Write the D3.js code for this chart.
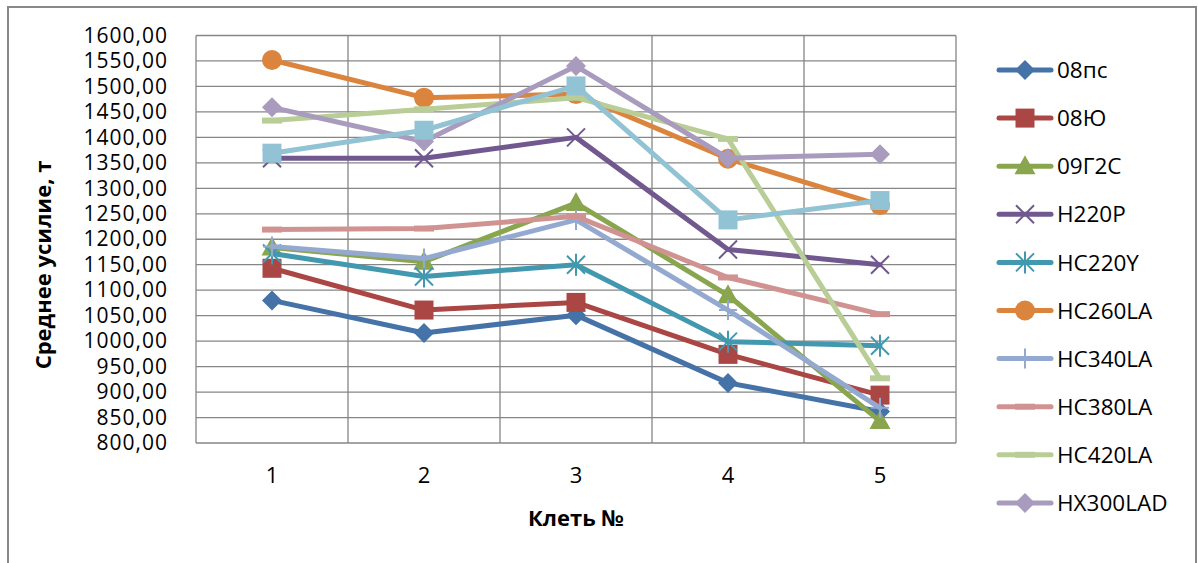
<!DOCTYPE html>
<html>
<head>
<meta charset="utf-8">
<script src="https://cdn.jsdelivr.net/npm/d3@7"></script>
<style>
  html, body { margin: 0; padding: 0; background: #fff; }
  svg { display: block; }
  text { font-family: "Open Sans", "Noto Sans", sans-serif; fill: #000; }
</style>
</head>
<body>
<svg id="chart" width="1198" height="563"></svg>
<script>
// Stands (клети) along the rolling line
const stands = [1, 2, 3, 4, 5];

// Average rolling force per stand, t
const s08ps     = [1080, 1016, 1051, 918, 862];
const s08yu     = [1143, 1061, 1076, 974, 894];
const s09g2s    = [1184, 1156, 1271, 1090, 843];
const sH220P    = [1359, 1359, 1400, 1180, 1150];
const sHC220Y   = [1172, 1127, 1150, 999, 991];
const sHC260LA  = [1552, 1478, 1485, 1358, 1267];
const sHC340LA  = [1186, 1162, 1238, 1061, 869];
const sHC380LA  = [1219, 1221, 1245, 1125, 1053];
const sHC420LA  = [1433, 1455, 1478, 1397, 927];
const sHX300LAD = [1459, 1392, 1540, 1359, 1367];
const sHX340LAD = [1369, 1414, 1501, 1238, 1276];

const seriesNames = ["08пс", "08Ю", "09Г2С", "H220P", "HC220Y", "HC260LA",
                     "HC340LA", "HC380LA", "HC420LA", "HX300LAD", "HX340LAD"];
const seriesValues = [s08ps, s08yu, s09g2s, sH220P, sHC220Y, sHC260LA,
                      sHC340LA, sHC380LA, sHC420LA, sHX300LAD, sHX340LAD];
const seriesColors = ["#4572A7", "#AA4643", "#89A54E", "#71588F", "#4198AF", "#DB843D",
                      "#93A9CF", "#D19392", "#B9CD96", "#A99BBD", "#92C3D4"];
const seriesMarkers = ["diamond", "square", "triangle", "x", "star", "circle",
                       "plus", "dash", "dash", "diamond", "square"];
// Only the first ten series fit into the legend box
const legendCount = 10;

const yTicks = d3.range(800, 1601, 50);

const svg = d3.select("#chart");
const plot = { left: 196, right: 956, top: 35.5, bottom: 443 };

const locale = d3.formatLocale({ decimal: ",", thousands: "", grouping: [3], currency: ["", ""] });
const fmt = locale.format(".2f");

const x = d3.scaleBand().domain(stands).range([plot.left, plot.right]).padding(0);
const y = d3.scaleLinear().domain([800, 1600]).range([plot.bottom, plot.top]);
const cx = d => x(d) + x.bandwidth() / 2;

// Outer chart frame
svg.append("rect")
  .attr("x", 8).attr("y", 7).attr("width", 1188).attr("height", 570)
  .attr("fill", "none").attr("stroke", "#888").attr("stroke-width", 2);

const grid = svg.append("g").attr("stroke", "#868686").attr("stroke-width", 1.3).attr("fill", "none");

// Horizontal gridlines
grid.selectAll("line.h").data(yTicks).join("line")
  .attr("class", "h")
  .attr("x1", plot.left).attr("x2", plot.right)
  .attr("y1", d => y(d)).attr("y2", d => y(d));

// Vertical gridlines at stand boundaries
const bounds = stands.map(d => x(d)).concat([x(stands[stands.length - 1]) + x.bandwidth()]);
grid.selectAll("line.v").data(bounds).join("line")
  .attr("class", "v")
  .attr("x1", d => d).attr("x2", d => d)
  .attr("y1", plot.top).attr("y2", plot.bottom);

// Y axis tick labels
const yAxis = d3.axisLeft(y).tickValues(yTicks).tickFormat(fmt).tickSize(0).tickPadding(28);
const gy = svg.append("g").attr("transform", `translate(${plot.left},0)`).call(yAxis);
gy.select(".domain").remove();
gy.selectAll("text").attr("font-size", 21).attr("letter-spacing", 1)
  .attr("font-family", "Open Sans").attr("fill", "#000");

// X axis tick labels
const xAxis = d3.axisBottom(x).tickSize(0).tickPadding(24);
const gx = svg.append("g").attr("transform", `translate(0,${plot.bottom})`).call(xAxis);
gx.select(".domain").remove();
gx.selectAll("text").attr("font-size", 22).attr("font-family", "Open Sans").attr("fill", "#000");

// Axis titles
svg.append("text")
  .attr("x", (plot.left + plot.right) / 2).attr("y", 526)
  .attr("text-anchor", "middle").attr("font-weight", "bold").attr("font-size", 22)
  .text("Клеть №");

svg.append("text")
  .attr("transform", "translate(51,265) rotate(-90)")
  .attr("text-anchor", "middle").attr("font-weight", "bold").attr("font-size", 22)
  .text("Среднее усилие, т");

// Marker shapes centred on (0,0)
function markerPath(kind) {
  switch (kind) {
    case "diamond":  return "M0,-10L10,0L0,10L-10,0Z";
    case "square":   return "M-9.5,-9.5H9.5V9.5H-9.5Z";
    case "triangle": return "M0,-11L10.5,8L-10.5,8Z";
    case "circle":   return d3.symbol(d3.symbolCircle, Math.PI * 100)();
    case "dash":     return "M-10,-3H10V3H-10Z";
    case "x":        return "M-9,-9L9,9M-9,9L9,-9";
    case "star":     return "M-9,-9L9,9M-9,9L9,-9M0,-11V11";
    case "plus":     return "M-9,0H9M0,-10V10";
  }
}
const strokeOnly = k => k === "x" || k === "star" || k === "plus";

function drawMarker(g, kind, color) {
  g.append("path")
    .attr("d", markerPath(kind))
    .attr("fill", strokeOnly(kind) ? "none" : color)
    .attr("stroke", strokeOnly(kind) ? color : "none")
    .attr("stroke-width", 2);
}

const line = d3.line().x((d, i) => cx(stands[i])).y(d => y(d));

// Series: line then markers, in order
seriesValues.forEach((vals, si) => {
  const g = svg.append("g").attr("class", "series");
  g.append("path")
    .attr("d", line(vals))
    .attr("fill", "none")
    .attr("stroke", seriesColors[si])
    .attr("stroke-width", 5)
    .attr("stroke-linejoin", "round")
    .attr("stroke-linecap", "round");
  vals.forEach((v, i) => {
    const m = g.append("g").attr("transform", `translate(${cx(stands[i])},${y(v)})`);
    drawMarker(m, seriesMarkers[si], seriesColors[si]);
  });
});

// Legend
const legend = svg.append("g");
const legendTop = 70, legendStep = 48.1;
seriesNames.slice(0, legendCount).forEach((name, i) => {
  const ly = legendTop + i * legendStep;
  const row = legend.append("g").attr("transform", `translate(0,${ly})`);
  row.append("line")
    .attr("x1", 999).attr("x2", 1051).attr("y1", 0).attr("y2", 0)
    .attr("stroke", seriesColors[i]).attr("stroke-width", 5).attr("stroke-linecap", "round");
  const m = row.append("g").attr("transform", "translate(1025,0)");
  drawMarker(m, seriesMarkers[i], seriesColors[i]);
  row.append("text")
    .attr("x", 1057).attr("y", 0).attr("dy", "0.36em")
    .attr("font-size", 22.5)
    .text(name);
});
</script>
</body>
</html>
